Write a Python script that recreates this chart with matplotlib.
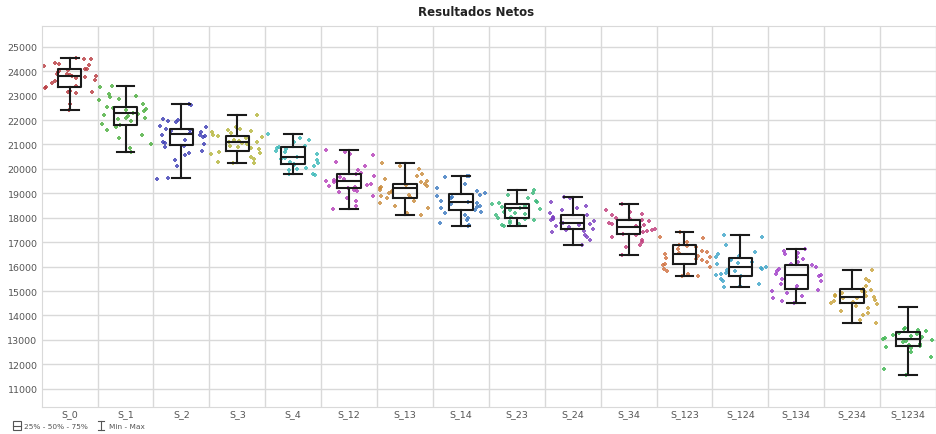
import numpy as np
import matplotlib
matplotlib.use("Agg")
import matplotlib.pyplot as plt
from matplotlib.lines import Line2D
from matplotlib.patches import Rectangle

# === Data ===
categories = ["S_0", "S_1", "S_2", "S_3", "S_4", "S_12", "S_13", "S_14", "S_23",
              "S_24", "S_34", "S_123", "S_124", "S_134", "S_234", "S_1234"]

box_min = [22390, 20700, 19610, 20230, 19780, 18350, 18130, 17660, 17660,
           16870, 16490, 15600, 15160, 14500, 13700, 11550]
box_q1 = [23350, 21790, 20980, 20740, 20200, 19220, 18810, 18310, 17990,
          17530, 17340, 16110, 15630, 15070, 14510, 12750]
box_med = [23820, 22270, 21420, 21110, 20470, 19510, 19200, 18650, 18390,
           17770, 17640, 16530, 15980, 15640, 14750, 13050]
box_q3 = [24090, 22540, 21650, 21330, 20900, 19810, 19400, 18990, 18570,
          18100, 17900, 16870, 16340, 16080, 15070, 13340]
box_max = [24550, 23400, 22650, 22210, 21430, 20770, 20220, 19710, 19140,
           18850, 18550, 17420, 17280, 16710, 15840, 14360]

pts_s0 = [24550, 24500, 24480, 24350, 24300, 24250, 24200, 24100, 24080, 24050, 24000,
          23950, 23900, 23880, 23850, 23820, 23800, 23750, 23700, 23650, 23600, 23500,
          23400, 23350, 23300, 23200, 23150, 23150, 23100, 22650, 22390]
pts_s1 = [23400, 23350, 23050, 23000, 22950, 22850, 22800, 22650, 22550, 22500, 22450,
          22400, 22350, 22300, 22250, 22200, 22150, 22100, 22100, 22050, 21950, 21850,
          21800, 21700, 21600, 21400, 21250, 21000, 20850, 20700]
pts_s2 = [22650, 22600, 22050, 22000, 21950, 21900, 21750, 21700, 21650, 21600, 21550,
          21500, 21450, 21400, 21380, 21350, 21300, 21200, 21100, 21050, 21000, 20950,
          20900, 20750, 20650, 20550, 20350, 20100, 19610, 19600]
pts_s3 = [22210, 21700, 21650, 21600, 21550, 21500, 21450, 21400, 21350, 21300, 21250,
          21200, 21150, 21100, 21100, 21050, 21000, 20950, 20900, 20850, 20800, 20700,
          20650, 20600, 20500, 20400, 20300, 20250, 20230]
pts_s4 = [21430, 21250, 21200, 21100, 20950, 20900, 20850, 20800, 20750, 20700, 20600,
          20500, 20450, 20400, 20350, 20300, 20250, 20200, 20150, 20100, 20050, 20000,
          19950, 19800, 19780, 19750]
pts_s12 = [20770, 20700, 20600, 20550, 20300, 20100, 19950, 19850, 19800, 19700, 19650,
           19600, 19550, 19500, 19450, 19400, 19350, 19300, 19250, 19200, 19150, 19100,
           19050, 18900, 18800, 18700, 18500, 18350]
pts_s13 = [20220, 20100, 20000, 19800, 19700, 19600, 19500, 19450, 19400, 19350, 19300,
           19250, 19200, 19150, 19100, 19050, 19000, 18950, 18900, 18850, 18800, 18700,
           18600, 18500, 18400, 18200, 18130]
pts_s14 = [19710, 19700, 19650, 19400, 19200, 19100, 19000, 18950, 18900, 18850, 18800,
           18700, 18650, 18600, 18550, 18500, 18450, 18400, 18300, 18250, 18200, 18100,
           18000, 17900, 17800, 17700, 17660]
pts_s23 = [19140, 19000, 18950, 18800, 18700, 18650, 18600, 18550, 18500, 18450, 18400,
           18350, 18300, 18250, 18200, 18150, 18100, 18050, 18000, 17950, 17900, 17850,
           17800, 17750, 17700, 17660]
pts_s24 = [18850, 18800, 18650, 18500, 18400, 18300, 18200, 18100, 18050, 18000, 17950,
           17900, 17850, 17800, 17780, 17750, 17700, 17650, 17600, 17550, 17500, 17450,
           17400, 17300, 17200, 17100, 16870]
pts_s34 = [18550, 18300, 18250, 18150, 18100, 18000, 17950, 17900, 17850, 17800, 17750,
           17700, 17650, 17600, 17550, 17500, 17450, 17400, 17350, 17300, 17200, 17100,
           17000, 16900, 16800, 16490]
pts_s123 = [17420, 17200, 17150, 17000, 16900, 16850, 16800, 16700, 16650, 16600, 16550,
            16500, 16450, 16400, 16350, 16300, 16250, 16200, 16100, 16050, 16000, 15900,
            15800, 15700, 15600, 15600]
pts_s124 = [17280, 17200, 16900, 16600, 16500, 16450, 16400, 16300, 16250, 16200, 16150,
            16100, 16000, 15950, 15900, 15850, 15800, 15750, 15700, 15650, 15600, 15500,
            15400, 15300, 15200, 15160]
pts_s134 = [16710, 16650, 16550, 16500, 16400, 16300, 16200, 16100, 16050, 16000, 15900,
            15800, 15700, 15650, 15600, 15500, 15400, 15300, 15200, 15100, 15050, 15000,
            14900, 14800, 14700, 14600, 14500]
pts_s234 = [15840, 15500, 15400, 15200, 15100, 15050, 15000, 14950, 14900, 14850, 14800,
            14780, 14750, 14720, 14700, 14650, 14600, 14550, 14500, 14450, 14400, 14300,
            14200, 14100, 14000, 13800, 13700]
pts_s1234 = [13500, 13450, 13400, 13350, 13300, 13250, 13200, 13150, 13100, 13080,
             13050, 13020, 13000, 12950, 12900, 12850, 12800, 12750, 12700, 12650, 12500,
             12300, 11800, 11550]

points = [pts_s0, pts_s1, pts_s2, pts_s3, pts_s4, pts_s12, pts_s13, pts_s14, pts_s23,
          pts_s24, pts_s34, pts_s123, pts_s124, pts_s134, pts_s234, pts_s1234]

colors = ["#b83a3f", "#4aae3c", "#3c3cb4", "#b4b43a", "#3ab8b8", "#b43cb8", "#c98a3a",
          "#3a78c0", "#3ab87a", "#7a3cc0", "#c03a7a", "#d0703e", "#3ca4c8", "#a03cc8",
          "#c8a23a", "#3ab44c"]

GRID = "#d9d9d9"
TXT = "#555555"

fig = plt.figure(figsize=(9.36, 4.35), dpi=100)
ax = fig.add_axes([41.7 / 936, 1 - 408.3 / 435, 1 - 41.7 / 936, (408.3 - 26.7) / 435])

# jittered points (jitter is only horizontal placement)
rng = np.random.default_rng(7)
for i, vals in enumerate(points):
    xs = i + rng.uniform(-0.47, 0.47, len(vals))
    ax.scatter(xs, vals, s=12, marker="P", color=colors[i], alpha=0.8,
               linewidths=0, zorder=2)

# boxes from stats
stats = []
for i in range(len(categories)):
    stats.append(dict(whislo=box_min[i], q1=box_q1[i], med=box_med[i],
                      q3=box_q3[i], whishi=box_max[i], label=categories[i]))
ax.bxp(stats, positions=np.arange(len(categories)), widths=0.42, showfliers=False,
       patch_artist=False,
       boxprops=dict(color="#1a1a1a", linewidth=1.5),
       medianprops=dict(color="#1a1a1a", linewidth=1.5),
       whiskerprops=dict(color="#1a1a1a", linewidth=1.5),
       capprops=dict(color="#1a1a1a", linewidth=1.5),
       capwidths=0.32, zorder=3)

ax.set_xlim(-0.5, -0.5 + (936 - 41.7) / 56.5)
ax.set_ylim(10240, 25860)
ax.set_yticks(np.arange(11000, 25001, 1000))
ax.set_yticklabels([str(v) for v in range(11000, 25001, 1000)])
ax.set_xticks(np.arange(len(categories)))
ax.set_xticklabels(categories)
ax.set_xticks(np.arange(len(categories)) + 0.5, minor=True)
ax.tick_params(axis="both", which="both", length=0, labelsize=6.8, labelcolor=TXT)
ax.tick_params(axis="x", pad=1)
ax.tick_params(axis="y", pad=3)
ax.grid(axis="y", which="major", color=GRID, linewidth=1)
ax.grid(axis="x", which="minor", color=GRID, linewidth=1)
ax.grid(axis="x", which="major", visible=False)
ax.set_axisbelow(True)
for s in ax.spines.values():
    s.set_color(GRID)
ax.spines["right"].set_visible(False)

fig.text(476 / 936, 1 - 13 / 435, "Resultados Netos", ha="center", va="center",
         fontsize=8.5, fontweight="bold", color="#222222")

# legend at the bottom-left
def fx(px): return px / 936
def fy(py): return 1 - py / 435

fig.add_artist(Rectangle((fx(13), fy(431)), fx(8) - fx(0), fy(422) - fy(431),
                         fill=False, edgecolor=TXT, linewidth=0.8, transform=fig.transFigure))
fig.add_artist(Line2D([fx(13), fx(21)], [fy(426.5), fy(426.5)], color=TXT, linewidth=0.8))
fig.text(fx(24), fy(427), "25% - 50% - 75%", ha="left", va="center", fontsize=5.3, color=TXT)
fig.add_artist(Line2D([fx(101), fx(101)], [fy(422), fy(431)], color=TXT, linewidth=0.8))
fig.add_artist(Line2D([fx(98), fx(104)], [fy(422), fy(422)], color=TXT, linewidth=0.8))
fig.add_artist(Line2D([fx(98), fx(104)], [fy(431), fy(431)], color=TXT, linewidth=0.8))
fig.text(fx(109), fy(427), "Min - Max", ha="left", va="center", fontsize=5.3, color=TXT)

fig.savefig("out.png", dpi=100)
